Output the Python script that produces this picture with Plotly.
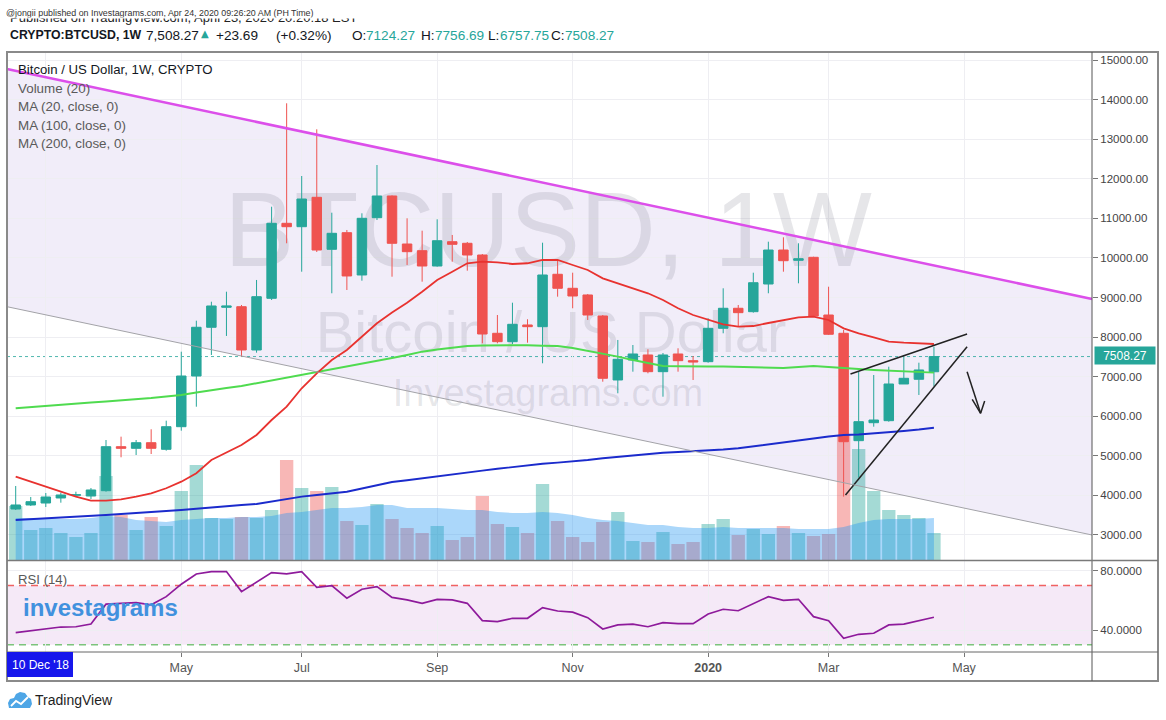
import pandas as pd
import plotly.graph_objects as go

# ---------------- data (weekly BTCUSD candles) ----------------
week_start = "2019-02-18"
opens = [3657, 3758, 3808, 3935, 4005, 3985, 4119, 5231, 5190, 5332,
         5165, 5736, 7017, 8248, 8753, 8768, 7674, 8980, 10875, 10789,
         11532, 10218, 10638, 9569, 11017, 11565, 10352, 10183, 9796, 10410,
         10370, 10074, 8096, 7884, 8306, 8263, 9587, 9233, 9064, 8533,
         6916, 7421, 7548, 7126, 7573, 7404, 7379, 8222, 8728, 8642,
         9341, 10200, 9940, 10016, 8558, 8096, 5383, 5837, 5888, 6815,
         6934, 7124.27]
highs = [4238, 3960, 4061, 4069, 4094, 4187, 5400, 5484, 5400, 5671,
         5888, 7631, 8414, 8894, 9147, 8811, 9443, 11294, 13907, 12070,
         13250, 11143, 10706, 11128, 12348, 11580, 11001, 10688, 10976, 10580,
         10403, 10099, 8558, 8869, 8450, 10385, 9948, 9627, 9089, 8558,
         7927, 7800, 7692, 7598, 7717, 7522, 8475, 9233, 8811, 9627,
         10410, 10521, 10370, 10030, 9273, 8180, 7126, 7042, 7252, 7548,
         7353, 7756.69]
lows = [3632, 3733, 3707, 3816, 3968, 3910, 4094, 4963, 5021, 5046,
        5130, 5635, 6241, 7548, 8028, 7505, 7606, 8937, 10370, 9652,
        10150, 9107, 9190, 9425, 10958, 9526, 9822, 9400, 9779, 9905,
        9678, 7843, 7843, 7826, 7859, 7338, 9021, 8728, 8432, 6873,
        6580, 7126, 7085, 6494, 7126, 6916, 7353, 8096, 8263, 8617,
        9107, 9652, 9359, 8515, 8053, 3968, 4450, 5736, 5862, 6815,
        6537, 6757.75]
closes = [3758, 3841, 3960, 4011, 4015, 4137, 5231, 5190, 5332, 5190,
          5736, 7017, 8248, 8786, 8786, 7674, 9021, 10875, 10789, 11489,
          10200, 10622, 9544, 11001, 11565, 10370, 10158, 9796, 10435, 10344,
          10074, 8078, 7884, 8323, 8263, 9569, 9233, 9038, 8558, 6959,
          7439, 7573, 7126, 7548, 7404, 7371, 8222, 8728, 8617, 9374,
          10200, 9930, 9980, 8533, 8071, 5357, 5863, 5905, 6815, 6959,
          7169, 7508.27]
volume = [540, 300, 320, 270, 230, 270, 840, 450, 300, 430,
          340, 690, 950, 420, 410, 430, 420, 500, 1000, 720,
          690, 730, 390, 350, 560, 410, 320, 270, 340, 200,
          230, 640, 360, 330, 270, 760, 390, 230, 180, 380,
          480, 190, 180, 280, 160, 180, 360, 410, 250, 310,
          260, 340, 270, 240, 260, 1250, 1110, 690, 500, 450,
          420, 270]
volume_ma20 = [420, 420, 420, 410, 410, 420, 440, 430, 400, 390,
               380, 400, 410, 420, 420, 430, 430, 440, 470, 480,
               500, 520, 520, 530, 550, 550, 520, 520, 520, 510,
               500, 500, 480, 470, 470, 480, 470, 450, 420, 400,
               390, 370, 350, 350, 330, 320, 320, 330, 320, 320,
               320, 320, 310, 310, 310, 330, 370, 400, 410, 410,
               410, 420]
ma20 = [4473, 4347, 4205, 4079, 3968, 3867, 3867, 3902, 3968, 4054,
        4180, 4347, 4559, 4895, 5084, 5274, 5527, 5905, 6242, 6707,
        7085, 7421, 7674, 8010, 8349, 8621, 8869, 9147, 9443, 9652,
        9865, 9905, 9890, 9847, 9865, 9948, 9948, 9822, 9695, 9485,
        9359, 9233, 9107, 8937, 8728, 8558, 8432, 8323, 8263, 8280,
        8356, 8432, 8500, 8515, 8432, 8222, 8096, 7995, 7884, 7859,
        7843, 7826]
ma100 = [6201, 6234, 6259, 6284, 6322, 6348, 6373, 6398, 6428, 6461,
         6499, 6537, 6600, 6663, 6714, 6764, 6833, 6903, 6979, 7042,
         7118, 7181, 7252, 7320, 7396, 7472, 7548, 7631, 7687, 7737,
         7775, 7788, 7793, 7800, 7795, 7783, 7775, 7725, 7656, 7586,
         7505, 7421, 7338, 7270, 7262, 7252, 7257, 7257, 7245, 7232,
         7212, 7219, 7245, 7270, 7245, 7212, 7194, 7169, 7149, 7126,
         7113, 7101]
ma200 = [3379, 3397, 3417, 3435, 3455, 3480, 3505, 3531, 3556, 3574,
         3589, 3632, 3664, 3700, 3733, 3758, 3783, 3846, 3910, 3968,
         4011, 4054, 4094, 4175, 4256, 4339, 4382, 4427, 4473, 4523,
         4574, 4625, 4673, 4721, 4769, 4799, 4827, 4852, 4895, 4938,
         4978, 5014, 5046, 5079, 5097, 5115, 5130, 5160, 5190, 5236,
         5286, 5337, 5388, 5438, 5489, 5527, 5539, 5564, 5595, 5628,
         5665, 5711]
rsi14 = [38.2, 39.3, 40.7, 42.0, 42.2, 44.0, 57.4, 58.0, 58.5, 57.0,
         62.5, 70.9, 77.8, 79.4, 79.4, 65.9, 72.6, 78.7, 77.8, 79.4,
         68.8, 69.9, 61.4, 67.5, 69.3, 62.0, 60.3, 58.0, 60.7, 60.3,
         58.0, 46.3, 45.6, 47.9, 47.9, 55.1, 52.8, 52.0, 48.3, 40.7,
         43.4, 44.0, 42.2, 44.9, 44.3, 44.3, 50.8, 54.0, 53.0, 58.0,
         62.5, 60.0, 60.7, 49.0, 46.3, 34.4, 37.1, 37.8, 43.4, 44.0,
         46.3, 48.6]
header_change = 23.69
header_change_pct = 0.32

tick_dates = ["2019-03-04", "2019-05-06", "2019-07-01", "2019-09-02", "2019-11-04",
              "2020-01-06", "2020-03-02", "2020-05-04"]
tick_text = ["", "May", "Jul", "Sep", "Nov", "<b>2020</b>", "Mar", "May"]
x_range = ["2019-02-13 23:00", "2020-07-02 12:00"]
price_range = [2368, 15203]
rsi_range = [25.16, 86.54]
volume_axis_max = 5080

# drawings (trend channel at chart edges, rising wedge, arrow)
channel_upper = [14773, 8963]
channel_lower = [8768, 3000]
wedge_upper_x = ["2020-03-12 05:00", "2020-05-05 10:00"]
wedge_upper_y = [7068, 8078]
wedge_lower_x = ["2020-03-09 21:00", "2020-05-05 10:00"]
wedge_lower_y = [4011, 7757]
arrow_x = ["2020-05-05 10:00", "2020-05-11 17:00"]
arrow_y = [7126, 6075]
arrow_head_x = ["2020-05-07 19:00", "2020-05-11 17:00", "2020-05-13 14:00"]
arrow_head_y = [6428, 6075, 6386]

# ---------------- layout geometry ----------------
W, H = 1166, 720
ML, MR, MT, MB = 7, 74, 52, 68
PW, PH = W - ML - MR, H - MT - MB
PRICE_BOTTOM = 560


def fx(x):
    return (x - ML) / PW


def fy(y):
    return (H - MB - y) / PH


t0, t1 = pd.Timestamp(x_range[0]), pd.Timestamp(x_range[1])


def xdate(xp):
    return t0 + (t1 - t0) * ((xp - ML) / PW)


def yvol(yp):
    return (PRICE_BOTTOM - yp) / (PRICE_BOTTOM - MT) * volume_axis_max


TEAL = "#26a69a"
RED = "#ef5350"
FONT = "Liberation Sans, Arial, sans-serif"

dates = pd.date_range(week_start, periods=len(closes), freq="7D")
vol_colors = ["rgba(38,166,154,0.42)" if c >= o else "rgba(239,83,80,0.42)"
              for o, c in zip(opens, closes)]

fig = go.Figure()

# volume (base axis, drawn under price traces)
fig.add_trace(go.Bar(x=dates, y=volume, width=6.2 * 86400000,
                     marker=dict(color=vol_colors, line=dict(width=0)),
                     xaxis="x", yaxis="y", hoverinfo="skip"))
fig.add_trace(go.Scatter(x=dates, y=volume_ma20, mode="lines", line=dict(width=0),
                         fill="tozeroy", fillcolor="rgba(33,150,243,0.38)",
                         xaxis="x", yaxis="y", hoverinfo="skip"))

# watermarks
wm = [("BTCUSD, 1W", 548, 240, 105, "rgba(105,108,125,0.17)"),
      ("Bitcoin / US Dollar", 551, 337, 58, "rgba(105,108,125,0.16)"),
      ("Investagrams.com", 548, 396, 38, "rgba(105,108,125,0.16)")]
for txt, xp, yp, sz, col in wm:
    fig.add_trace(go.Scatter(x=[xdate(xp)], y=[yvol(yp)], mode="text", text=[txt],
                             textposition="middle center",
                             textfont=dict(size=sz, color=col, family=FONT),
                             xaxis="x", yaxis="y", hoverinfo="skip"))

# candles
fig.add_trace(go.Candlestick(x=dates, open=opens, high=highs, low=lows, close=closes,
                             increasing=dict(line=dict(color=TEAL, width=1), fillcolor=TEAL),
                             decreasing=dict(line=dict(color=RED, width=1), fillcolor=RED),
                             whiskerwidth=0, xaxis="x", yaxis="y3", hoverinfo="skip"))

# moving averages
fig.add_trace(go.Scatter(x=dates, y=ma100, mode="lines", line=dict(color="#4fdb4f", width=1.9),
                         xaxis="x", yaxis="y3", hoverinfo="skip"))
fig.add_trace(go.Scatter(x=dates, y=ma200, mode="lines", line=dict(color="#1b2bcc", width=1.9),
                         xaxis="x", yaxis="y3", hoverinfo="skip"))
fig.add_trace(go.Scatter(x=dates, y=ma20, mode="lines", line=dict(color="#e8322f", width=1.8),
                         xaxis="x", yaxis="y3", hoverinfo="skip"))

# wedge + arrow drawings
for xs, ys in [(wedge_upper_x, wedge_upper_y), (wedge_lower_x, wedge_lower_y),
               (arrow_x, arrow_y), (arrow_head_x, arrow_head_y)]:
    fig.add_trace(go.Scatter(x=xs, y=ys, mode="lines", line=dict(color="#222222", width=1.5),
                             xaxis="x", yaxis="y3", hoverinfo="skip"))

# RSI
fig.add_trace(go.Scatter(x=dates, y=rsi14, mode="lines", line=dict(color="#8e1a9b", width=1.7),
                         xaxis="x", yaxis="y2", hoverinfo="skip"))

shapes = [
    dict(type="path", xref="paper", yref="y3",
         path=f"M 0,{channel_upper[0]} L 1,{channel_upper[1]} L 1,{channel_lower[1]} L 0,{channel_lower[0]} Z",
         fillcolor="rgba(103,58,183,0.09)", line=dict(width=0), layer="below"),
    dict(type="line", xref="paper", yref="y3", x0=0, x1=1, y0=channel_upper[0], y1=channel_upper[1],
         line=dict(color="#dc4fea", width=2.5), layer="above"),
    dict(type="line", xref="paper", yref="y3", x0=0, x1=1, y0=channel_lower[0], y1=channel_lower[1],
         line=dict(color="#a3a3a8", width=1), layer="above"),
    dict(type="line", xref="paper", yref="y3", x0=0, x1=1, y0=closes[-1], y1=closes[-1],
         line=dict(color="rgba(38,166,154,0.8)", width=1, dash="dot"), layer="below"),
    dict(type="rect", xref="paper", yref="y2", x0=0, x1=1, y0=30, y1=70,
         fillcolor="rgba(155,39,176,0.10)", line=dict(width=0), layer="below"),
    dict(type="line", xref="paper", yref="y2", x0=0, x1=1, y0=70, y1=70,
         line=dict(color="#f06262", width=1.5, dash="7px,5px"), layer="below"),
    dict(type="line", xref="paper", yref="y2", x0=0, x1=1, y0=30, y1=30,
         line=dict(color="#7cc47c", width=1.5, dash="7px,5px"), layer="below"),
    # frame
    dict(type="rect", xref="paper", yref="paper", x0=0, x1=fx(1158), y0=fy(681), y1=1,
         line=dict(color="#8a8a8a", width=2), layer="above"),
    dict(type="line", xref="paper", yref="paper", x0=1, x1=1, y0=fy(681), y1=1,
         line=dict(color="#555555", width=1), layer="above"),
    dict(type="line", xref="paper", yref="paper", x0=0, x1=fx(1158), y0=fy(560.5), y1=fy(560.5),
         line=dict(color="#7a7a7a", width=1.5), layer="above"),
    dict(type="line", xref="paper", yref="paper", x0=0, x1=fx(1158), y0=0, y1=0,
         line=dict(color="#666666", width=1), layer="above"),
    dict(type="rect", xref="paper", yref="paper", x0=0, x1=fx(73), y0=fy(677), y1=fy(652),
         fillcolor="#1717ec", line=dict(width=0), layer="above"),
]

# TradingView cloud logo
cloud = [(9, 708), (8, 703), (10, 699), (14, 698), (16, 694), (20, 692), (25, 693),
         (28, 697), (31, 699), (32, 704), (30, 708)]
path = "M " + " L ".join(f"{fx(a):.5f},{fy(b):.5f}" for a, b in cloud) + " Z"
shapes.append(dict(type="path", xref="paper", yref="paper", path=path,
                   fillcolor="#4ea6e6", line=dict(width=0), layer="above"))
zig = [(11, 706), (16, 701), (21, 704), (28, 697)]
path2 = "M " + " L ".join(f"{fx(a):.5f},{fy(b):.5f}" for a, b in zig)
shapes.append(dict(type="path", xref="paper", yref="paper", path=path2,
                   line=dict(color="white", width=1.8), layer="above"))


def ann(text, x, y, size, color, xanchor="left", yanchor="middle", **kw):
    d = dict(text=text, xref="paper", yref="paper", x=fx(x), y=fy(y), xanchor=xanchor,
             yanchor=yanchor, showarrow=False, font=dict(size=size, color=color, family=kw.pop("family", FONT)))
    d.update(kw)
    return d


annotations = [
    ann("Published on TradingView.com, April 23, 2020 20:20:18 EST", 8, 17.5, 13, "#222222"),
    ann("@jongii published on Investagrams.com, Apr 24, 2020 09:26:20 AM (PH Time)", 5, 0, 8.9, "#333333",
        yanchor="top", width=440, height=16.5, bgcolor="white", align="left", valign="bottom",
        borderpad=0),
    ann("<b>CRYPTO:BTCUSD, 1W</b>", 8, 35, 12.3, "#131722"),
    ann(f"{closes[-1]:,.2f}", 143.5, 35, 13.6, "#131722"),
    ann("\u25b2", 199, 34, 10, TEAL, family="DejaVu Sans"),
    ann(f"+{header_change:.2f}", 214, 35, 13.6, "#131722"),
    ann(f"(+{header_change_pct:.2f}%)", 274, 35, 13.6, "#131722"),
    ann("O:", 350, 35, 13.6, "#131722"), ann(f"{opens[-1]:.2f}", 363.6, 35, 13.6, TEAL),
    ann("H:", 419, 35, 13.6, "#131722"), ann(f"{highs[-1]:.2f}", 432.5, 35, 13.6, TEAL),
    ann("L:", 486, 35, 13.6, "#131722"), ann(f"{lows[-1]:.2f}", 497.5, 35, 13.6, TEAL),
    ann("C:", 549, 35, 13.6, "#131722"), ann(f"{closes[-1]:.2f}", 562.6, 35, 13.6, TEAL),
    # legend block
    ann("Bitcoin / US Dollar, 1W, CRYPTO", 16, 69, 13.2, "#131722"),
    ann("Volume (20)", 16, 88, 13.4, "#5a5a5a"),
    ann("MA (20, close, 0)", 16, 106.5, 13.4, "#5a5a5a"),
    ann("MA (100, close, 0)", 16, 125, 13.4, "#5a5a5a"),
    ann("MA (200, close, 0)", 16, 143.5, 13.4, "#5a5a5a"),
    # RSI pane
    ann("RSI (14)", 16, 579, 13.2, "#5a5a5a"),
    ann("<b>investagrams</b>", 21, 607, 24, "#4191de"),
    ann("10 Dec '18", 40, 664.5, 12, "white", xanchor="center"),
    # current price tag
    ann(f"{closes[-1]:.2f}", 1094, 356, 12, "white", width=58, height=15, bgcolor=TEAL,
        align="center", borderpad=1),
    # footer
    ann("TradingView", 33, 700, 14, "#1e1e1e"),
]

fig.update_layout(
    width=W, height=H,
    margin=dict(l=ML, r=MR, t=MT, b=MB, pad=0),
    paper_bgcolor="white", plot_bgcolor="white",
    showlegend=False, hovermode=False,
    font=dict(family=FONT, size=12, color="#555555"),
    boxgap=0.1, boxgroupgap=0.3,
    xaxis=dict(type="date", range=x_range, anchor="y2", rangeslider=dict(visible=False),
               tickmode="array", tickvals=tick_dates, ticktext=tick_text,
               showgrid=True, gridcolor="#eeeef2", gridwidth=1,
               ticks="outside", ticklen=4, tickcolor="#777777",
               tickfont=dict(size=12.5, color="#555555"), zeroline=False, showline=False),
    yaxis=dict(domain=[fy(PRICE_BOTTOM), 1], range=[0, volume_axis_max], visible=False,
               fixedrange=True),
    yaxis3=dict(overlaying="y", anchor="x", side="right", range=price_range,
                tickmode="linear", tick0=3000, dtick=1000, tickformat=".2f",
                showgrid=True, gridcolor="#eeeef2", gridwidth=1,
                ticks="outside", ticklen=5, tickcolor="#777777",
                tickfont=dict(size=11.5, color="#444444"), zeroline=False, showline=False),
    yaxis2=dict(domain=[0, fy(561)], anchor="x", side="right", range=rsi_range,
                tickmode="array", tickvals=[40, 80], tickformat=".4f",
                showgrid=True, gridcolor="#eeeef2", gridwidth=1,
                ticks="outside", ticklen=5, tickcolor="#777777",
                tickfont=dict(size=11.5, color="#444444"), zeroline=False, showline=False),
    shapes=shapes,
    annotations=annotations,
)

fig.write_html("out.html")
